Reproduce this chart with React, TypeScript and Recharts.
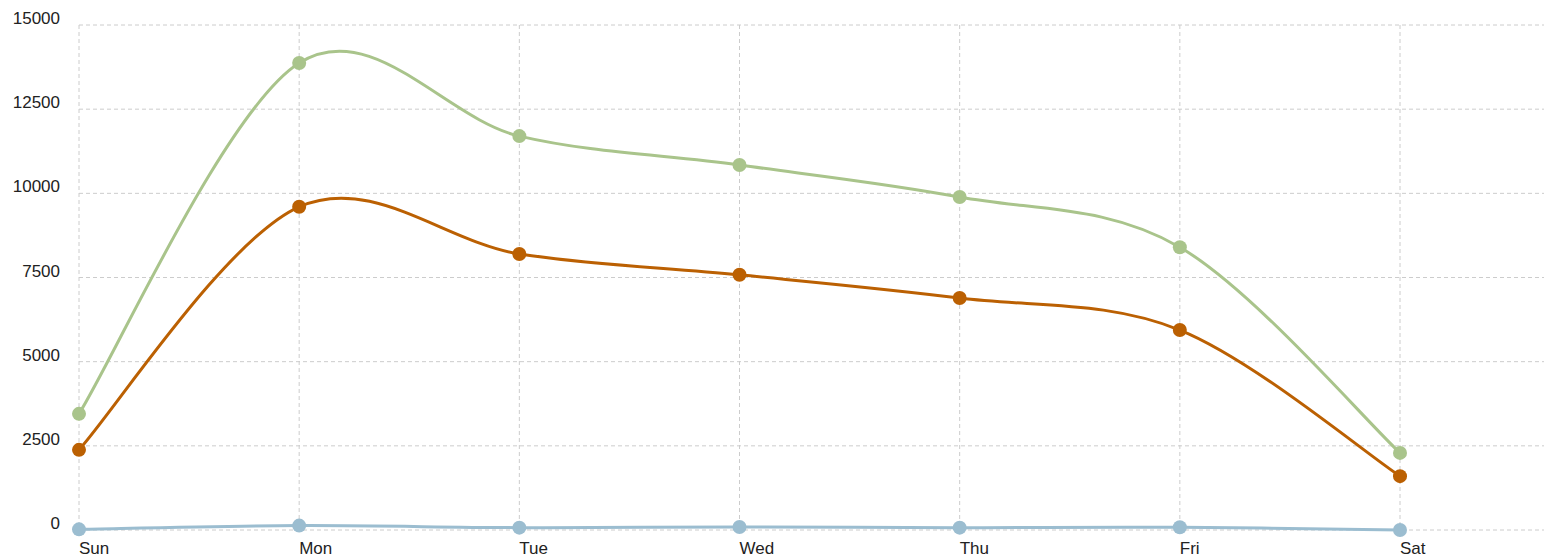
import { LineChart, Line, XAxis, YAxis, CartesianGrid } from "recharts";

const days = ["Sun", "Mon", "Tue", "Wed", "Thu", "Fri", "Sat"];
const totalSeries = [3450, 13870, 11700, 10840, 9890, 8400, 2290];
const mainSeries = [2380, 9600, 8200, 7580, 6890, 5940, 1600];
const smallSeries = [20, 130, 70, 90, 70, 80, 0];
const yTicks = [0, 2500, 5000, 7500, 10000, 12500, 15000];

const data = days.map((day, i) => ({
  day,
  total: totalSeries[i],
  main: mainSeries[i],
  small: smallSeries[i],
}));

// catmull-rom style cardinal spline (tension 0), endpoints duplicated
const cardinal = (context: any) => {
  let pts: number[][] = [];
  return {
    areaStart() {},
    areaEnd() {},
    lineStart() {
      pts = [];
    },
    lineEnd() {
      if (!pts.length) return;
      context.moveTo(pts[0][0], pts[0][1]);
      for (let i = 0; i < pts.length - 1; i++) {
        const p0 = pts[Math.max(i - 1, 0)];
        const p1 = pts[i];
        const p2 = pts[i + 1];
        const p3 = pts[Math.min(i + 2, pts.length - 1)];
        context.bezierCurveTo(
          p1[0] + (p2[0] - p0[0]) / 6,
          p1[1] + (p2[1] - p0[1]) / 6,
          p2[0] - (p3[0] - p1[0]) / 6,
          p2[1] - (p3[1] - p1[1]) / 6,
          p2[0],
          p2[1]
        );
      }
    },
    point(x: number, y: number) {
      pts.push([+x, +y]);
    },
  };
};

const font = "'Liberation Sans', Arial, sans-serif";

const YTick = (props: any) => {
  const { y, payload } = props;
  return (
    <text x={52} y={y - 1} textAnchor="end" fill="#222" fontSize={17} fontFamily={font}>
      {payload.value}
    </text>
  );
};

const XTick = (props: any) => {
  const { x, y, payload } = props;
  return (
    <text x={x} y={y + 16} textAnchor="start" fill="#222" fontSize={17} fontFamily={font}>
      {payload.value}
    </text>
  );
};

const series = [
  { key: "total", color: "#a9c48b" },
  { key: "main", color: "#bb6002" },
  { key: "small", color: "#9bbdd0" },
];

export default function App() {
  return (
    <LineChart
      width={1544}
      height={552}
      data={data}
      margin={{ top: 17, right: 0, left: 0, bottom: 0 }}
    >
      <CartesianGrid stroke="#ccc" strokeDasharray="4 3" />
      <XAxis
        dataKey="day"
        axisLine={false}
        tickLine={false}
        height={30}
        padding={{ left: 0, right: 152 }}
        tick={<XTick />}
      />
      <YAxis
        domain={[0, 15000]}
        ticks={yTicks}
        width={71}
        axisLine={false}
        tickLine={false}
        tick={<YTick />}
      />
      {series.map((s) => (
        <Line
          key={s.key}
          dataKey={s.key}
          type={cardinal as any}
          stroke={s.color}
          strokeWidth={3}
          dot={{ r: 7, fill: s.color, stroke: "none" }}
          activeDot={false}
          isAnimationActive={false}
        />
      ))}
    </LineChart>
  );
}
